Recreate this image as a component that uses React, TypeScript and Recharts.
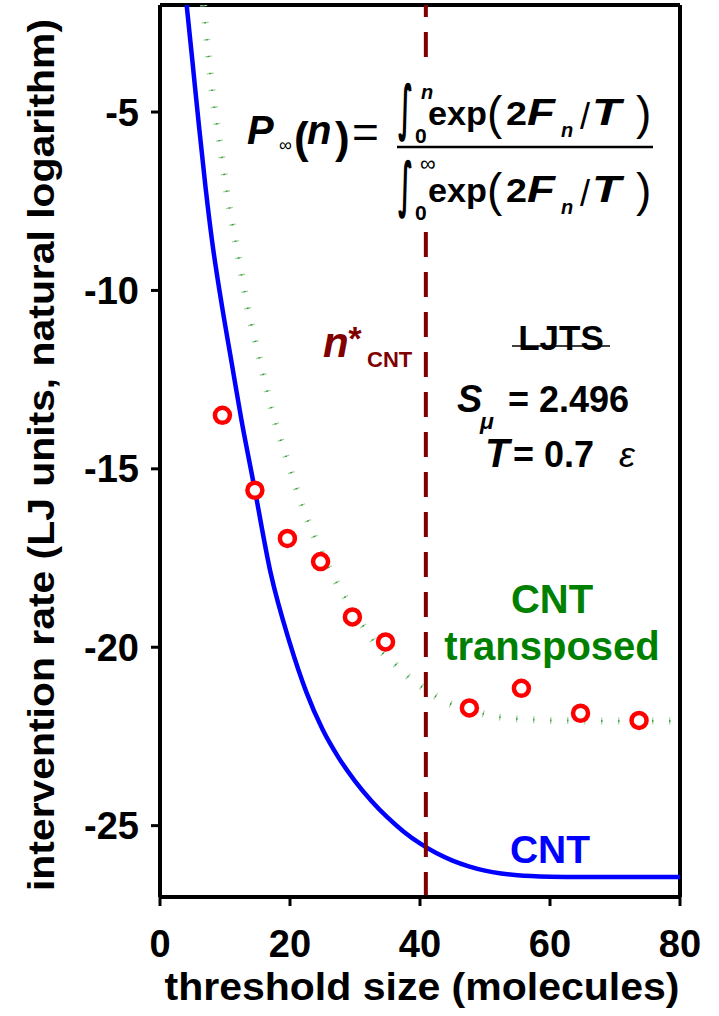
import React from "react"
import { ComposedChart, Line, Scatter, XAxis, YAxis, ReferenceLine } from "recharts"

// CNT curve (blue)
const cntX = [4.1, 5, 6, 7, 8, 9.5, 11, 12.5, 14.5, 17, 20, 22.5, 25, 27.5, 30, 32.5, 35, 37.5, 40, 42.5, 45, 47.5, 50, 52.5, 55, 60, 65, 70, 80]
const cntY = [-2.0, -3.6, -5.4, -7.1, -8.6, -10.4, -12.0, -13.6, -15.5, -17.9, -19.9, -21.25, -22.3, -23.1, -23.75, -24.3, -24.77, -25.17, -25.5, -25.77, -25.98, -26.14, -26.26, -26.34, -26.39, -26.43, -26.44, -26.44, -26.44]

// CNT transposed (green dotted)
const transX = [6.7, 7.4, 8.3, 9.1, 10.2, 12, 13.5, 15.3, 17.2, 19.6, 22.2, 24.4, 27, 29.5, 31.8, 33.6, 36.3, 38.9, 41, 43.3, 45.9, 48.5, 51.2, 53.8, 57, 60, 65, 70, 75, 80]
const transY = [-2.0, -3.35, -4.8, -5.75, -7.15, -9.0, -10.5, -11.9, -13.35, -14.77, -16.2, -17.17, -18.14, -18.9, -19.55, -20.02, -20.5, -20.94, -21.2, -21.47, -21.67, -21.8, -21.93, -21.99, -22.03, -22.05, -22.06, -22.07, -22.07, -22.07]

// simulation points (red circles)
const simX = [9.6, 14.6, 19.6, 24.7, 29.6, 34.7, 47.6, 55.6, 64.7, 73.7]
const simY = [-13.5, -15.6, -16.95, -17.6, -19.15, -19.85, -21.7, -21.15, -21.85, -22.05]

const xTicks = [0, 20, 40, 60, 80]
const yTicks = [-25, -20, -15, -10, -5]
const nStarCNT = 40.9

const FONT = "'Liberation Sans', Arial, sans-serif"

const toPoints = (xs: number[], ys: number[]) => xs.map((x, i) => ({ x, y: ys[i] }))

const cntData = toPoints(cntX, cntY)
const transData = toPoints(transX, transY)
const simData = toPoints(simX, simY)

const RingDot = (props: any) => {
  const { cx, cy } = props
  if (cx == null || cy == null) return null
  return <circle cx={cx} cy={cy} r={7.5} fill="#fff" stroke="#ff0000" strokeWidth={4.5} />
}

// one integral of the fraction; dy shifts it to the denominator
const Integrand = ({ dy, upper }: { dy: number; upper: string }) => (
  <g fontFamily={FONT} fill="#000">
    <text x={398} y={128 + dy} fontSize={60} fontWeight="bold" fontFamily="'DejaVu Sans', sans-serif"
      textLength={15} lengthAdjust="spacingAndGlyphs">∫</text>
    {upper === "n" ? (
      <text x={421} y={99 + dy} fontSize={20} fontWeight="bold" fontStyle="italic">n</text>
    ) : (
      <text x={420} y={94 + dy} fontSize={22}>∞</text>
    )}
    <text x={415} y={143 + dy} fontSize={21} fontWeight="bold">0</text>
    <text x={428} y={125 + dy} fontSize={34} fontWeight="bold" textLength={59} lengthAdjust="spacingAndGlyphs">exp</text>
    <text x={487} y={129 + dy} fontSize={46}>(</text>
    <text x={506} y={125 + dy} fontSize={34} fontWeight="bold" textLength={21} lengthAdjust="spacingAndGlyphs">2</text>
    <text x={527} y={125 + dy} fontSize={36} fontWeight="bold" fontStyle="italic" textLength={28} lengthAdjust="spacingAndGlyphs">F</text>
    <text x={561} y={137 + dy} fontSize={20} fontWeight="bold" fontStyle="italic">n</text>
    <text x={580} y={129 + dy} fontSize={36}>/</text>
    <text x={592} y={125 + dy} fontSize={36} fontWeight="bold" fontStyle="italic" textLength={29} lengthAdjust="spacingAndGlyphs">T</text>
    <text x={636} y={129 + dy} fontSize={46}>)</text>
  </g>
)

const Annotations = () => (
  <svg width={719} height={1016} style={{ position: "absolute", left: 0, top: 0, pointerEvents: "none" }}>
    {/* formula sits on a white box that hides the dashed line */}
    <rect x={395} y={64} width={262} height={167} fill="#fff" />
    <g fontFamily={FONT} fill="#000">
      <text x={247} y={144} fontSize={40} fontWeight="bold" fontStyle="italic">P</text>
      <text x={279} y={151} fontSize={18}>∞</text>
      <text x={294} y={153} fontSize={44} fontWeight="bold">(</text>
      <text x={307} y={144} fontSize={40} fontWeight="bold" fontStyle="italic">n</text>
      <text x={335} y={153} fontSize={44} fontWeight="bold">)</text>
      <text x={352} y={148} fontSize={46}>=</text>
    </g>
    <line x1={397} x2={653} y1={147} y2={147} stroke="#000" strokeWidth={2.5} />
    <Integrand dy={0} upper="n" />
    <Integrand dy={77} upper="inf" />

    {/* n*CNT */}
    <g fontFamily={FONT} fill="#800000" fontWeight="bold">
      <text x={323} y={357} fontSize={42} fontStyle="italic">n</text>
      <text x={347} y={350} fontSize={34} fontStyle="italic">*</text>
      <text x={367} y={367} fontSize={22}>CNT</text>
    </g>

    {/* LJTS block */}
    <g fontFamily={FONT} fill="#000" fontWeight="bold">
      <text x={561} y={350} fontSize={35} textAnchor="middle">LJTS</text>
      <line x1={512} x2={610} y1={346} y2={346} stroke="#000" strokeWidth={1.5} />
      <text x={457} y={412} fontSize={38} fontStyle="italic">S</text>
      <text x={480} y={429} fontSize={23} fontStyle="italic">μ</text>
      <text x={508} y={412} fontSize={36}>= 2.496</text>
      <text x={485} y={467} fontSize={40} fontStyle="italic">T</text>
      <text x={513} y={467} fontSize={36}>= 0.7</text>
      <text x={619} y={467} fontSize={36} fontStyle="italic" fontWeight="normal">ε</text>
    </g>

    {/* series labels */}
    <g fontFamily={FONT} fontWeight="bold" textAnchor="middle">
      <text x={552} y={613} fontSize={40} fill="#008000">CNT</text>
      <text x={552} y={660} fontSize={40} fill="#008000">transposed</text>
      <text x={550} y={863} fontSize={39} fill="#0000ff">CNT</text>
    </g>

    {/* axis titles */}
    <text x={422} y={1000} fontSize={39} fontWeight="bold" fontFamily={FONT} textAnchor="middle"
      textLength={515} lengthAdjust="spacingAndGlyphs">threshold size (molecules)</text>
    <text transform="translate(54,455) rotate(-90)" x={0} y={0} fontSize={36} fontWeight="bold" fontFamily={FONT}
      textAnchor="middle" textLength={872} lengthAdjust="spacingAndGlyphs">
      intervention rate (LJ units, natural logarithm)
    </text>
  </svg>
)

export default function App() {
  const tickStyle = { fill: "#000", fontSize: 38, fontWeight: 700, fontFamily: FONT }
  return (
    <div style={{ position: "absolute", left: 0, top: 0, width: 719, height: 1016, background: "#fff" }}>
      <ComposedChart width={719} height={1016} margin={{ top: 5, right: 39, left: 0, bottom: 0 }}>
        <XAxis
          type="number"
          dataKey="x"
          domain={[0, 80]}
          ticks={xTicks}
          interval={0}
          allowDataOverflow
          height={119}
          tickSize={9}
          tickMargin={24}
          axisLine={{ stroke: "#000", strokeWidth: 4 }}
          tickLine={{ stroke: "#000", strokeWidth: 3 }}
          tick={tickStyle}
        />
        <YAxis
          type="number"
          dataKey="y"
          domain={[-27, -2]}
          ticks={yTicks}
          interval={0}
          allowDataOverflow
          width={160}
          tickSize={9}
          tickMargin={12}
          axisLine={{ stroke: "#000", strokeWidth: 4 }}
          tickLine={{ stroke: "#000", strokeWidth: 3 }}
          tick={tickStyle}
        />
        <ReferenceLine y={-2} stroke="#000" strokeWidth={4} />
        <ReferenceLine x={80} stroke="#000" strokeWidth={4} />
        <Line
          data={transData}
          dataKey="y"
          type="monotone"
          stroke="#a3d6a3"
          strokeWidth={7}
          strokeDasharray="1.3 15.7"
          dot={false}
          isAnimationActive={false}
        />
        <Line
          data={transData}
          dataKey="y"
          type="monotone"
          stroke="#3a993a"
          strokeWidth={2}
          strokeDasharray="1.3 15.7"
          dot={false}
          isAnimationActive={false}
        />
        <Line
          data={cntData}
          dataKey="y"
          type="monotone"
          stroke="#0000ff"
          strokeWidth={4.5}
          dot={false}
          isAnimationActive={false}
        />
        <ReferenceLine x={nStarCNT} stroke="#800000" strokeWidth={4} strokeDasharray="25 15" />
        <Scatter data={simData} dataKey="y" shape={<RingDot />} isAnimationActive={false} />
      </ComposedChart>
      <Annotations />
    </div>
  )
}
